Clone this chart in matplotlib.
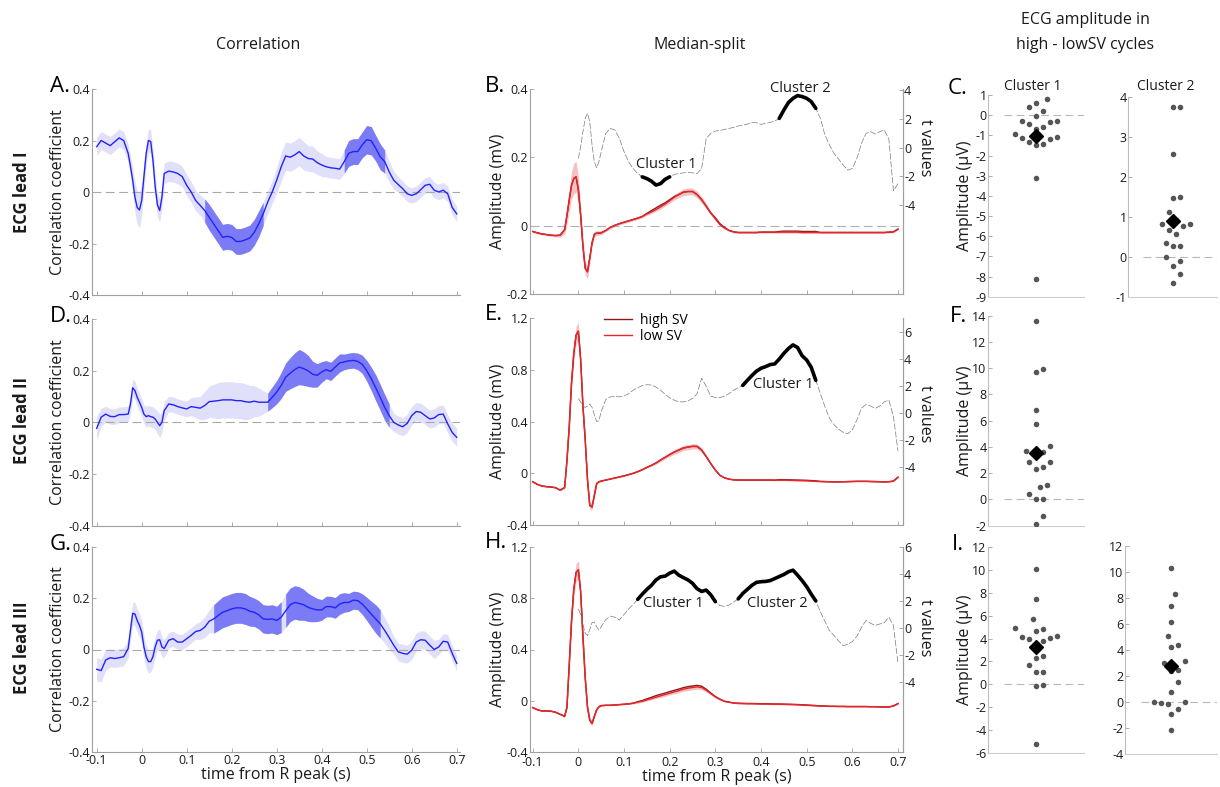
import numpy as np
import matplotlib
matplotlib.use("Agg")
import matplotlib.pyplot as plt
import matplotlib.transforms as mtransforms
from matplotlib.ticker import FuncFormatter

plt.rcParams['font.family'] = ['Open Sans', 'DejaVu Sans']
plt.rcParams['axes.unicode_minus'] = False

W, H = 1220, 787

# time from R peak (s): finer sampling around the QRS complex
time_s = np.round(np.concatenate([np.arange(-0.10, -0.035, 0.01),
                                  np.arange(-0.03, 0.0525, 0.005),
                                  np.arange(0.06, 0.7025, 0.01)]), 3)
t_start = 13  # t values are shown from the R peak onwards

# ---- correlation (mean +- sem) ----
corr_I = [0.176, 0.200, 0.190, 0.180, 0.195, 0.210, 0.200,
          0.150, 0.100, 0.046, -0.020, -0.060, -0.070, -0.033, 0.060, 0.150, 0.200, 0.196, 0.124, 0.020, -0.050, -0.072, -0.020, 0.072,
          0.081, 0.078, 0.072, 0.060, 0.026, 0.000, -0.033, -0.052, -0.072, -0.098,
          -0.124, -0.150, -0.176, -0.172, -0.176, -0.192, -0.192, -0.186, -0.179, -0.157,
          -0.124, -0.085, -0.039, 0.000, 0.046, 0.098, 0.140, 0.135, 0.144, 0.157,
          0.140, 0.130, 0.128, 0.114, 0.105, 0.098, 0.094, 0.092, 0.089, 0.118,
          0.150, 0.157, 0.157, 0.183, 0.203, 0.199, 0.170, 0.137, 0.118, 0.078,
          0.046, 0.029, 0.013, -0.007, -0.013, -0.007, 0.009, 0.026, 0.030, 0.007,
          0.000, 0.007, -0.007, -0.060, -0.085]
corr_I_sem = [0.035, 0.035, 0.035, 0.035, 0.035, 0.035, 0.035,
              0.035, 0.040, 0.050, 0.060, 0.065, 0.070, 0.060, 0.050, 0.045, 0.045, 0.045, 0.045, 0.045, 0.045, 0.045, 0.040, 0.040,
              0.040, 0.040, 0.040, 0.040, 0.040, 0.040, 0.040, 0.040, 0.045, 0.050,
              0.050, 0.050, 0.050, 0.050, 0.050, 0.050, 0.050, 0.050, 0.050, 0.050,
              0.050, 0.045, 0.045, 0.045, 0.050, 0.055, 0.055, 0.055, 0.055, 0.055,
              0.055, 0.050, 0.050, 0.045, 0.045, 0.040, 0.040, 0.040, 0.040, 0.045,
              0.050, 0.050, 0.050, 0.050, 0.055, 0.055, 0.050, 0.050, 0.045, 0.040,
              0.035, 0.030, 0.030, 0.030, 0.030, 0.030, 0.030, 0.030, 0.030, 0.030,
              0.030, 0.030, 0.030, 0.030, 0.030]
corr_I_clusters = [(0.14, 0.27), (0.45, 0.54)]

corr_II = [-0.023, 0.020, 0.032, 0.023, 0.022, 0.030, 0.030,
           0.032, 0.070, 0.134, 0.123, 0.097, 0.078, 0.058, 0.032, 0.022, 0.026, 0.022, 0.020, 0.013, 0.000, -0.013, 0.000, 0.045,
           0.071, 0.068, 0.061, 0.056, 0.052, 0.061, 0.058, 0.055, 0.065, 0.080,
           0.082, 0.084, 0.087, 0.087, 0.087, 0.084, 0.084, 0.080, 0.078, 0.082,
           0.078, 0.078, 0.078, 0.097, 0.117, 0.143, 0.175, 0.190, 0.204, 0.214,
           0.208, 0.199, 0.186, 0.182, 0.195, 0.204, 0.197, 0.214, 0.230, 0.234,
           0.238, 0.240, 0.236, 0.225, 0.200, 0.169, 0.134, 0.097, 0.058, 0.026,
           0.000, -0.010, -0.017, -0.004, 0.026, 0.042, 0.039, 0.026, 0.013, 0.017,
           0.030, 0.032, -0.006, -0.039, -0.058]
corr_II_sem = [0.045, 0.035, 0.030, 0.030, 0.030, 0.030, 0.030,
               0.030, 0.035, 0.035, 0.035, 0.035, 0.035, 0.035, 0.035, 0.040, 0.040, 0.040, 0.040, 0.040, 0.045, 0.045, 0.040, 0.035,
               0.030, 0.030, 0.030, 0.030, 0.030, 0.035, 0.040, 0.045, 0.055, 0.060,
               0.065, 0.070, 0.070, 0.070, 0.070, 0.070, 0.070, 0.070, 0.065, 0.060,
               0.055, 0.045, 0.035, 0.040, 0.045, 0.050, 0.055, 0.060, 0.065, 0.068,
               0.065, 0.060, 0.050, 0.045, 0.040, 0.035, 0.035, 0.035, 0.035, 0.030,
               0.030, 0.030, 0.032, 0.035, 0.040, 0.045, 0.050, 0.050, 0.050, 0.045,
               0.035, 0.035, 0.035, 0.035, 0.035, 0.035, 0.035, 0.035, 0.035, 0.035,
               0.035, 0.035, 0.035, 0.035, 0.035]
corr_II_clusters = [(0.28, 0.55)]

corr_III = [-0.077, -0.082, -0.041, -0.032, -0.035, -0.032, -0.028,
            0.004, 0.074, 0.141, 0.138, 0.113, 0.094, 0.068, 0.010, -0.028, -0.047, -0.047, -0.028, 0.010, 0.036, 0.038, 0.010, 0.004,
            0.036, 0.042, 0.029, 0.029, 0.042, 0.055, 0.070, 0.074, 0.087, 0.110,
            0.119, 0.132, 0.145, 0.151, 0.158, 0.162, 0.162, 0.158, 0.149, 0.145,
            0.135, 0.119, 0.117, 0.119, 0.113, 0.126, 0.151, 0.174, 0.183, 0.179,
            0.174, 0.164, 0.158, 0.154, 0.154, 0.167, 0.167, 0.162, 0.177, 0.183,
            0.183, 0.192, 0.190, 0.177, 0.158, 0.138, 0.119, 0.100, 0.074, 0.046,
            0.017, -0.009, -0.015, -0.018, -0.003, 0.029, 0.038, 0.036, 0.017, 0.000,
            0.010, 0.032, 0.029, -0.015, -0.054]
corr_III_sem = [0.045, 0.045, 0.040, 0.035, 0.035, 0.035, 0.035,
                0.035, 0.040, 0.045, 0.045, 0.045, 0.045, 0.045, 0.045, 0.045, 0.045, 0.040, 0.040, 0.040, 0.040, 0.040, 0.040, 0.035,
                0.030, 0.030, 0.030, 0.030, 0.030, 0.030, 0.030, 0.035, 0.040, 0.045,
                0.055, 0.058, 0.060, 0.060, 0.060, 0.060, 0.060, 0.060, 0.058, 0.055,
                0.055, 0.055, 0.055, 0.055, 0.055, 0.060, 0.065, 0.065, 0.065, 0.065,
                0.060, 0.055, 0.050, 0.045, 0.040, 0.040, 0.040, 0.040, 0.040, 0.038,
                0.035, 0.035, 0.035, 0.040, 0.045, 0.050, 0.055, 0.055, 0.050, 0.045,
                0.035, 0.035, 0.035, 0.035, 0.035, 0.035, 0.035, 0.035, 0.035, 0.035,
                0.030, 0.030, 0.030, 0.030, 0.030]
corr_III_clusters = [(0.16, 0.31), (0.32, 0.53)]

# ---- ECG (mV): low SV trace, high - low difference, sem ----
ecg_I_low = [-0.017, -0.021, -0.024, -0.026, -0.028, -0.029, -0.028,
             -0.012, 0.030, 0.075, 0.118, 0.138, 0.143, 0.105, 0.030, -0.060, -0.125, -0.135, -0.095, -0.050, -0.025, -0.022, -0.022, -0.021,
             -0.014, -0.005, 0.001, 0.006, 0.010, 0.014, 0.018, 0.022, 0.027, 0.034,
             0.040, 0.047, 0.055, 0.063, 0.073, 0.083, 0.091, 0.098, 0.100, 0.100,
             0.091, 0.076, 0.057, 0.037, 0.020, 0.003, -0.007, -0.014, -0.018, -0.020,
             -0.020, -0.020, -0.020, -0.020, -0.019, -0.019, -0.019, -0.019, -0.019, -0.019,
             -0.019, -0.019, -0.019, -0.020, -0.020, -0.020, -0.020, -0.020, -0.020, -0.020,
             -0.020, -0.020, -0.020, -0.020, -0.020, -0.020, -0.020, -0.020, -0.020, -0.020,
             -0.020, -0.020, -0.019, -0.018, -0.010]
ecg_I_diff = [0.0, 0.0, 0.0, 0.0, 0.0, 0.0, 0.0,
              0.0, 0.0, 0.0, 0.0, 0.0, 0.0, 0.0, 0.0, 0.0, 0.0, 0.0, 0.0, 0.0, 0.0, 0.0, 0.0, 0.0,
              0.0, 0.0, 0.0, 0.0, 0.0, 0.0, 0.0, 0.0, 0.0, 0.002,
              0.004, 0.005, 0.005, 0.004, 0.003, 0.002, 0.0, 0.0, 0.0, 0.0,
              0.0, 0.0, 0.0, 0.0, 0.003, 0.003, 0.002, 0.0, 0.0, 0.0,
              0.0, 0.0, 0.0, 0.0, 0.0, 0.0, 0.0, 0.0, 0.002, 0.003,
              0.003, 0.003, 0.003, 0.003, 0.003, 0.003, 0.003, 0.0, 0.0, 0.0,
              0.0, 0.0, 0.0, 0.0, 0.0, 0.0, 0.0, 0.0, 0.0, 0.0,
              0.0, 0.0, 0.0, 0.0, 0.0]
ecg_I_sem = [0.003, 0.003, 0.003, 0.003, 0.003, 0.004, 0.006,
             0.012, 0.025, 0.035, 0.040, 0.045, 0.045, 0.040, 0.030, 0.022, 0.020, 0.020, 0.015, 0.010, 0.008, 0.008, 0.006, 0.006,
             0.004, 0.004, 0.004, 0.004, 0.004, 0.004, 0.004, 0.004, 0.004, 0.004,
             0.005, 0.005, 0.006, 0.006, 0.007, 0.008, 0.009, 0.010, 0.010, 0.010,
             0.010, 0.009, 0.008, 0.006, 0.005, 0.004, 0.003, 0.003, 0.003, 0.003,
             0.003, 0.003, 0.003, 0.003, 0.003, 0.003, 0.003, 0.003, 0.003, 0.003,
             0.003, 0.003, 0.003, 0.003, 0.003, 0.003, 0.003, 0.003, 0.003, 0.003,
             0.003, 0.003, 0.003, 0.003, 0.003, 0.003, 0.003, 0.003, 0.003, 0.003,
             0.003, 0.003, 0.003, 0.003, 0.003]

ecg_II_low = [-0.065, -0.085, -0.098, -0.103, -0.106, -0.111, -0.130,
              -0.110, 0.100, 0.360, 0.700, 0.930, 1.070, 1.100, 0.880, 0.520, 0.260, -0.050, -0.250, -0.260, -0.170, -0.080, -0.065, -0.060,
              -0.052, -0.044, -0.036, -0.028, -0.020, -0.010, 0.000, 0.013, 0.028, 0.046,
              0.062, 0.080, 0.103, 0.124, 0.145, 0.165, 0.180, 0.196, 0.203, 0.209,
              0.208, 0.180, 0.130, 0.075, 0.025, -0.015, -0.035, -0.045, -0.050, -0.052,
              -0.052, -0.052, -0.052, -0.052, -0.052, -0.052, -0.052, -0.053, -0.053, -0.053,
              -0.054, -0.055, -0.056, -0.057, -0.058, -0.060, -0.062, -0.063, -0.064, -0.065,
              -0.066, -0.066, -0.065, -0.064, -0.063, -0.062, -0.062, -0.062, -0.063, -0.064,
              -0.065, -0.066, -0.065, -0.060, -0.030]
ecg_II_diff = [0.0, 0.0, 0.0, 0.0, 0.0, 0.0, 0.0,
               0.0, 0.0, 0.0, 0.0, 0.0, 0.0, 0.0, 0.0, 0.0, 0.0, 0.0, 0.0, 0.0, 0.0, 0.0, 0.0, 0.0,
               0.0, 0.0, 0.0, 0.0, 0.0, 0.0, 0.0, 0.0, 0.0, 0.0,
               0.0, 0.0, 0.0, 0.0, 0.0, 0.0, 0.0, 0.0, 0.0, 0.0,
               0.0, 0.0, 0.0, 0.0, 0.0, 0.0, 0.0, 0.0, 0.0, 0.0,
               0.0, 0.0, 0.0, 0.0, 0.0, 0.0, 0.0, 0.0, 0.004, 0.004,
               0.004, 0.004, 0.004, 0.004, 0.004, 0.004, 0.004, 0.0, 0.0, 0.0,
               0.0, 0.0, 0.0, 0.0, 0.0, 0.0, 0.0, 0.0, 0.0, 0.0,
               0.0, 0.0, 0.0, 0.0, 0.0]
ecg_II_sem = [0.004, 0.004, 0.004, 0.004, 0.004, 0.005, 0.006,
              0.010, 0.030, 0.050, 0.060, 0.070, 0.070, 0.065, 0.050, 0.040, 0.030, 0.030, 0.030, 0.025, 0.015, 0.010, 0.008, 0.006,
              0.004, 0.004, 0.004, 0.004, 0.004, 0.004, 0.004, 0.004, 0.004, 0.004,
              0.008, 0.010, 0.012, 0.014, 0.016, 0.018, 0.020, 0.020, 0.020, 0.020,
              0.020, 0.018, 0.014, 0.010, 0.007, 0.005, 0.004, 0.004, 0.004, 0.004,
              0.004, 0.004, 0.004, 0.004, 0.004, 0.004, 0.004, 0.004, 0.004, 0.004,
              0.004, 0.004, 0.004, 0.004, 0.004, 0.004, 0.004, 0.004, 0.004, 0.004,
              0.004, 0.004, 0.004, 0.004, 0.004, 0.004, 0.004, 0.004, 0.004, 0.004,
              0.004, 0.004, 0.004, 0.004, 0.004]

ecg_III_low = [-0.052, -0.068, -0.078, -0.078, -0.080, -0.088, -0.104,
               -0.120, -0.050, 0.280, 0.620, 0.870, 1.000, 1.020, 0.850, 0.500, 0.180, -0.050, -0.150, -0.175, -0.120, -0.070, -0.045, -0.037,
               -0.034, -0.034, -0.031, -0.029, -0.026, -0.023, -0.018, -0.010, -0.003, 0.008,
               0.018, 0.029, 0.039, 0.049, 0.060, 0.070, 0.080, 0.091, 0.099, 0.104,
               0.109, 0.104, 0.083, 0.057, 0.031, 0.013, -0.003, -0.010, -0.016, -0.020,
               -0.021, -0.022, -0.022, -0.023, -0.024, -0.024, -0.025, -0.026, -0.026, -0.027,
               -0.028, -0.029, -0.030, -0.032, -0.034, -0.036, -0.038, -0.039, -0.040, -0.042,
               -0.042, -0.043, -0.043, -0.044, -0.044, -0.044, -0.044, -0.044, -0.045, -0.045,
               -0.046, -0.047, -0.047, -0.039, -0.021]
ecg_III_diff = [0.0, 0.0, 0.0, 0.0, 0.0, 0.0, 0.0,
                0.0, 0.0, 0.0, 0.0, 0.0, 0.0, 0.0, 0.0, 0.0, 0.0, 0.0, 0.0, 0.0, 0.0, 0.0, 0.0, 0.0,
                0.0, 0.0, 0.0, 0.0, 0.0, 0.0, 0.0, 0.004, 0.006, 0.008,
                0.010, 0.012, 0.012, 0.012, 0.012, 0.012, 0.012, 0.012, 0.012, 0.012,
                0.012, 0.010, 0.008, 0.005, 0.003, 0.0, 0.0, 0.0, 0.0, 0.002,
                0.002, 0.002, 0.002, 0.002, 0.002, 0.002, 0.002, 0.002, 0.002, 0.002,
                0.002, 0.002, 0.002, 0.002, 0.002, 0.002, 0.002, 0.0, 0.0, 0.0,
                0.0, 0.0, 0.0, 0.0, 0.0, 0.0, 0.0, 0.0, 0.0, 0.0,
                0.0, 0.0, 0.0, 0.0, 0.0]
ecg_III_sem = [0.004, 0.004, 0.004, 0.004, 0.004, 0.005, 0.006,
               0.010, 0.020, 0.040, 0.055, 0.065, 0.070, 0.070, 0.060, 0.050, 0.040, 0.030, 0.025, 0.020, 0.015, 0.010, 0.008, 0.006,
               0.004, 0.004, 0.004, 0.004, 0.005, 0.005, 0.006, 0.007, 0.008, 0.009,
               0.010, 0.011, 0.012, 0.013, 0.014, 0.015, 0.016, 0.017, 0.018, 0.018,
               0.018, 0.016, 0.013, 0.010, 0.008, 0.006, 0.005, 0.004, 0.004, 0.004,
               0.004, 0.004, 0.004, 0.004, 0.004, 0.004, 0.004, 0.004, 0.004, 0.004,
               0.004, 0.004, 0.004, 0.004, 0.004, 0.004, 0.004, 0.004, 0.004, 0.004,
               0.004, 0.004, 0.004, 0.004, 0.004, 0.004, 0.004, 0.004, 0.004, 0.004,
               0.004, 0.004, 0.004, 0.004, 0.004]

# ---- t values (high vs low SV), from t = 0 s ----
tval_I = [-0.75, 0.07, 1.10, 2.05, 2.40, 1.82, 0.19, -0.98, -1.40, -0.98, -0.28,
          1.00, 1.35, 1.24, 0.65, -0.28, -0.98, -1.45, -1.80, -2.03, -2.15,
          -2.33, -2.60, -2.50, -2.20, -2.03, -1.86, -1.80, -1.75, -1.72, -1.75,
          -1.80, -1.45, 0.65, 1.00, 1.17, 1.20, 1.28, 1.35, 1.42, 1.52,
          1.58, 1.65, 1.75, 1.75, 1.63, 1.70, 1.77, 1.86, 2.05, 2.63,
          3.15, 3.45, 3.64, 3.57, 3.45, 3.22, 2.75, 2.05, 0.89, 0.19,
          -0.40, -0.79, -1.21, -1.56, -1.45, -0.75, 0.30, 1.00, 1.12, 0.96,
          1.12, 1.24, 0.60, -3.00, -2.50]
tval_I_clusters = [(0.14, 0.20), (0.44, 0.52)]

tval_II = [1.10, 0.85, 0.54, 0.44, 0.54, 0.68, 0.44, -0.12, -0.61, -0.54, 0.12,
           1.02, 1.22, 1.27, 1.22, 1.29, 1.46, 1.71, 1.90, 2.05, 2.12,
           2.10, 1.95, 1.71, 1.41, 1.15, 0.98, 0.85, 0.85, 0.93, 1.10,
           1.46, 2.60, 2.00, 1.27, 1.17, 1.17, 1.27, 1.46, 1.71, 1.90,
           2.07, 2.44, 2.80, 3.12, 3.34, 3.46, 3.61, 3.66, 4.02, 4.44,
           4.80, 5.07, 4.88, 4.27, 3.95, 3.41, 2.44, 1.46, 0.49, -0.37,
           -0.85, -1.17, -1.41, -1.51, -1.22, -0.49, 0.37, 0.66, 0.54, 0.37,
           0.54, 0.85, 0.98, -0.24, -2.80]
tval_II_clusters = [(0.36, 0.52)]

tval_III = [1.41, 1.00, 0.30, -0.40, -0.55, -0.10, 0.40, 0.45, 0.10, -0.15, 0.10,
            0.62, 0.88, 0.80, 0.60, 1.00, 1.40, 1.75, 2.12, 2.50, 2.85,
            3.15, 3.55, 3.78, 3.83, 4.05, 4.20, 3.90, 3.72, 3.55, 3.30,
            2.90, 2.70, 2.80, 2.45, 1.95, 1.66, 1.60, 1.70, 1.92, 2.15,
            2.55, 2.85, 3.15, 3.37, 3.42, 3.44, 3.50, 3.65, 3.80, 3.95,
            4.15, 4.27, 3.90, 3.50, 3.05, 2.50, 2.00, 1.20, 0.50, -0.20,
            -0.55, -0.95, -1.30, -1.20, -1.00, -0.60, 0.05, 0.56, 0.35, 0.20,
            0.30, 0.40, 0.80, 0.20, -2.60]
tval_III_clusters = [(0.13, 0.30), (0.35, 0.52)]

# ---- ECG amplitude difference per participant (uV) ----
amp_I_c1 = [0.59, 0.42, 0.21, 0.80, -0.02, -0.27, -0.36, -0.44, -0.60, -0.29,
            -0.95, -0.70, -1.35, -1.43, -1.48, -1.20, -1.15, -1.07, -3.10, -8.10]
amp_I_c2 = [3.75, 3.75, 2.57, 1.48, 1.50, 1.14, 0.84, 0.77, 0.68, 0.84,
            0.92, 0.57, 0.28, 0.28, 0.35, 0.00, -0.11, -0.23, -0.42, -0.66]
amp_II_c1 = [13.58, 9.92, 9.72, 6.80, 5.74, 4.09, 3.71, 3.58, 3.32, 2.87,
             2.87, 2.34, 2.51, 1.07, 0.94, 0.43, 0.05, 0.05, -1.27, -1.88]
amp_III_c1 = [10.07, 7.44, 5.67, 4.92, 4.86, 4.67, 4.03, 4.00, 4.11, 4.23,
              3.45, 3.77, 2.44, 2.29, 1.69, 1.05, 1.05, -0.11, -0.02, -5.21]
amp_III_c2 = [10.34, 8.32, 7.42, 6.14, 5.12, 4.40, 4.22, 2.99, 3.17, 2.42,
              2.45, 1.52, 0.77, 0.02, -0.11, 0.00, -0.06, -0.52, -0.93, -2.13]

time_ticks = [-0.1, 0, 0.1, 0.2, 0.3, 0.4, 0.5, 0.6, 0.7]

# colours
SPINE = '#a0a0a0'
TXT = '#1a1a1a'
BLUE = '#2222ff'
BAND_LIGHT = '#e0e0fb'
BAND_DARK = '#7b7bf5'
RED = '#e8262b'
DARKRED = '#8b1a1a'
PINK = '#f5c2c2'

fig = plt.figure(figsize=(W / 100, H / 100), dpi=100)
fmt = FuncFormatter(lambda v, p: f"{v:g}")


def box(left, top, right, bottom):
    return fig.add_axes([left / W, 1 - bottom / H, (right - left) / W, (bottom - top) / H])


def style(ax, direction='in'):
    for s in ['top', 'right']:
        ax.spines[s].set_visible(False)
    for s in ['left', 'bottom']:
        ax.spines[s].set_color(SPINE)
        ax.spines[s].set_linewidth(0.8)
    ax.tick_params(direction=direction, length=3, width=0.6, color=SPINE,
                   labelsize=9, labelcolor=TXT, pad=1.5)
    ax.yaxis.set_major_formatter(fmt)
    ax.xaxis.set_major_formatter(fmt)


def in_range(x, lo, hi):
    return (x >= lo - 1e-6) & (x <= hi + 1e-6)


t = time_s
assert len(t) == 89

# ---------------- correlation column ----------------
corr_panels = [((92, 89, 460, 295), corr_I, corr_I_sem, corr_I_clusters, False),
               ((92, 319, 460, 525.7), corr_II, corr_II_sem, corr_II_clusters, False),
               ((92, 546.7, 460, 752.3), corr_III, corr_III_sem, corr_III_clusters, True)]
for bx, r, sem, clusters, bottom_row in corr_panels:
    r = np.array(r)
    sem = np.array(sem)
    ax = box(*bx)
    style(ax)
    ax.fill_between(t, r - sem, r + sem, color=BAND_LIGHT, lw=0)
    for c0, c1 in clusters:
        m = in_range(t, c0, c1)
        ax.fill_between(t[m], r[m] - sem[m], r[m] + sem[m], color=BAND_DARK, lw=0)
    ax.axhline(0, color='#a8a8a8', lw=0.8, ls=(0, (8, 4)))
    ax.plot(t, r, color=BLUE, lw=1.0)
    ax.set_xlim(-0.1104, 0.7073)
    ax.set_ylim(-0.4, 0.4)
    ax.set_yticks([-0.4, -0.2, 0, 0.2, 0.4])
    ax.set_xticks(time_ticks)
    ax.set_ylabel('Correlation coefficient', fontsize=11.5, color=TXT)
    ax.yaxis.set_label_coords(-0.071, 0.5)
    if bottom_row:
        ax.set_xlabel('time from R peak (s)', fontsize=11.5, color=TXT, labelpad=0)
    else:
        ax.tick_params(labelbottom=False)

# ---------------- median-split column ----------------
ecg_panels = [((530, 89, 902.7, 294), ecg_I_low, ecg_I_diff, ecg_I_sem, (-0.2, 0.4), [-0.2, 0, 0.2, 0.4],
               tval_I, tval_I_clusters, (-10.2, 4.1), [-4, -2, 0, 2, 4],
               [('Cluster 1', 0.193, -1.15), ('Cluster 2', 0.485, 4.12)], True, False, False),
              ((530, 318.3, 902.7, 525), ecg_II_low, ecg_II_diff, ecg_II_sem, (-0.4, 1.2), [-0.4, 0, 0.4, 0.8, 1.2],
               tval_II, tval_II_clusters, (-8.27, 7.04), [-4, -2, 0, 2, 4, 6],
               [('Cluster 1', 0.448, 2.15)], False, False, True),
              ((530, 546.7, 902.7, 752.3), ecg_III_low, ecg_III_diff, ecg_III_sem, (-0.4, 1.2), [-0.4, 0, 0.4, 0.8, 1.2],
               tval_III, tval_III_clusters, (-9.16, 5.93), [-4, -2, 0, 2, 4, 6],
               [('Cluster 1', 0.208, 1.79), ('Cluster 2', 0.435, 1.79)], False, True, False)]
tv_t = t[t_start:]
for (bx, low, diff, sem, ylim, yticks, tv, tv_clusters, tv_lim, tv_ticks,
     labels, zero_line, bottom_row, with_legend) in ecg_panels:
    low = np.array(low)
    high = low + np.array(diff)
    sem = np.array(sem)
    tv = np.array(tv)
    ax = box(*bx)
    style(ax)
    ax.spines['right'].set_visible(True)
    ax.spines['right'].set_color(SPINE)
    ax.spines['right'].set_linewidth(0.8)
    ax.fill_between(t, low - sem, low + sem, color=PINK, lw=0)
    if zero_line:
        ax.axhline(0, color='#b0b0b0', lw=0.8, ls=(0, (8, 4)))
    h_high, = ax.plot(t, high, color=DARKRED, lw=1.0)
    h_low, = ax.plot(t, low, color=RED, lw=1.0)
    ax.set_xlim(-0.1059, 0.7103)
    ax.set_ylim(*ylim)
    ax.set_yticks(yticks)
    ax.set_xticks(time_ticks)
    ax.set_ylabel('Amplitude (mV)', fontsize=11.5, color=TXT)
    ax.yaxis.set_label_coords(-0.064, 0.5)
    if bottom_row:
        ax.set_xlabel('time from R peak (s)', fontsize=11.5, color=TXT, labelpad=0)
        ax.tick_params(axis='x', pad=3)
    else:
        ax.tick_params(labelbottom=False)
    if with_legend:
        ax.legend([h_high, h_low], ['high SV', 'low SV'], loc='upper left',
                  bbox_to_anchor=(604 / W, 1 - 313 / H), bbox_transform=fig.transFigure,
                  frameon=False, fontsize=10, handlelength=2.0, handletextpad=0.6,
                  borderpad=0, borderaxespad=0, labelspacing=0.05)

    ax2 = ax.twinx()
    for s in ['top', 'left', 'bottom']:
        ax2.spines[s].set_visible(False)
    ax2.spines['right'].set_color(SPINE)
    ax2.spines['right'].set_linewidth(0.8)
    ax2.tick_params(direction='in', length=3, width=0.6, color=SPINE,
                    labelsize=9, labelcolor=TXT, pad=1)
    ax2.yaxis.set_major_formatter(fmt)
    ax2.plot(tv_t, tv, color='#7a7a7a', lw=0.5, ls=(0, (9, 2.5)))
    for c0, c1 in tv_clusters:
        m = in_range(tv_t, c0, c1)
        ax2.plot(tv_t[m], tv[m], color='black', lw=2.6, solid_capstyle='round')
    for txt, lx, ly in labels:
        ax2.text(lx, ly, txt, fontsize=10.5, color=TXT, ha='center', va='center')
    ax2.set_ylim(*tv_lim)
    ax2.set_yticks(tv_ticks)
    tr = mtransforms.blended_transform_factory(ax2.transAxes, ax2.transData)
    ax2.text(1.0 + 22 / 372.7, 0, 't values', transform=tr, rotation=270,
             fontsize=11.5, color=TXT, ha='center', va='center')


# ---------------- ECG amplitude scatter column ----------------
def swarm(values, px_per_unit, dx=7.0, dy=12.0):
    # beeswarm layout with an elliptical keep-out zone (wider spread, like plotSpread)
    ypx = np.asarray(values) * px_per_unit
    order = np.argsort(ypx)
    xs = np.zeros(len(values))
    placed = []
    for i in order:
        y = ypx[i]
        chosen = 0.0
        for k in range(0, 60):
            cands = [0.0] if k == 0 else [k * dx / 2, -k * dx / 2]
            ok = None
            for off in cands:
                if all(((off - px) / dx) ** 2 + ((y - py) / dy) ** 2 >= 1 for px, py in placed):
                    ok = off
                    break
            if ok is not None:
                chosen = ok
                break
        xs[i] = chosen
        placed.append((chosen, y))
    return xs


scatter_panels = [((988, 95, 1084, 296.7), amp_I_c1, (-9, 1), list(range(-9, 2)), True),
                  ((1128, 97.3, 1217, 297), amp_I_c2, (-1, 4), list(range(-1, 5)), False),
                  ((988, 315.7, 1084, 525.7), amp_II_c1, (-2, 14), list(range(-2, 15, 2)), True),
                  ((988, 546.7, 1084, 753.3), amp_III_c1, (-6, 12), list(range(-6, 13, 2)), True),
                  ((1125, 546, 1217, 754.3), amp_III_c2, (-4, 12), list(range(-4, 13, 2)), False)]
for bx, vals, ylim, yticks, with_label in scatter_panels:
    vals = np.array(vals)
    ax = box(*bx)
    style(ax, direction='in')
    ax.tick_params(pad=1)
    ax.spines['left'].set_color('#bdbdbd')
    ax.spines['bottom'].set_color('#d0d0d0')
    wpx = bx[2] - bx[0]
    hpx = bx[3] - bx[1]
    ax.set_xlim(-wpx / 2, wpx / 2)
    ax.set_ylim(*ylim)
    ax.set_yticks(yticks)
    ax.set_xticks([])
    ax.axhline(0, xmin=0.17, xmax=1, color='#b8b8b8', lw=0.8, ls=(0, (7, 4)))
    xs = swarm(vals, hpx / (ylim[1] - ylim[0]))
    ax.scatter(xs, vals, s=16, color='#555555', lw=0, zorder=3)
    ax.plot([0], [np.mean(vals)], marker='D', ms=7.5, color='black', zorder=4)
    if with_label:
        ax.set_ylabel('Amplitude (\u00b5V)', fontsize=11.5, color=TXT)
        ax.yaxis.set_label_coords(-0.16, 0.5)


# ---------------- texts ----------------
def ftext(x, y, s, **kw):
    fig.text(x / W, 1 - y / H, s, color=TXT, ha='center', va='center', **kw)


ftext(258, 45, 'Correlation', fontsize=11.5)
ftext(700, 45, 'Median-split', fontsize=11.5)
ftext(1085, 20, 'ECG amplitude in', fontsize=11.5)
ftext(1085, 45, 'high - lowSV cycles', fontsize=11.5)
ftext(1033, 86, 'Cluster 1', fontsize=10)
ftext(1166, 86, 'Cluster 2', fontsize=10)
ftext(22, 192, 'ECG lead I', fontsize=12, fontweight='bold', rotation=90)
ftext(22, 420, 'ECG lead II', fontsize=12, fontweight='bold', rotation=90)
ftext(22, 648, 'ECG lead III', fontsize=12, fontweight='bold', rotation=90)

for letter, x, y in [('A.', 50, 87), ('B.', 485, 86), ('C.', 948, 88),
                     ('D.', 50, 316), ('E.', 485, 315), ('F.', 950, 316),
                     ('G.', 50, 544), ('H.', 485, 543), ('I.', 952, 545)]:
    fig.text(x / W, 1 - y / H, letter, fontsize=16, color='black', ha='left', va='center')

fig.savefig('out.png', dpi=100)
